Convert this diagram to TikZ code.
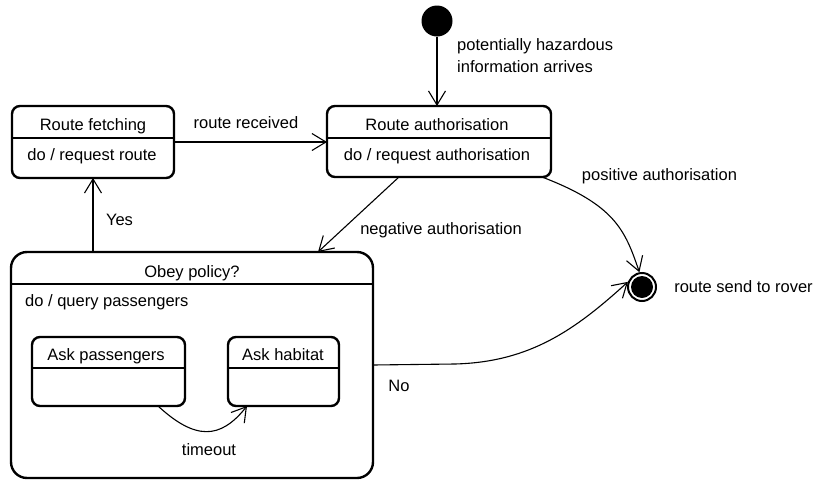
\documentclass[tikz,border=0pt]{standalone}
\usepackage{fontspec}
\setmainfont{Liberation Sans}
\usetikzlibrary{arrows.meta,calc}
\begin{document}
\begin{tikzpicture}[x=1pt,y=-1pt,
  font=\fontsize{16.5}{22}\selectfont,
  box/.style={draw, line width=2.4pt, rounded corners=8pt, inner sep=0pt, outer sep=0pt},
  bigbox/.style={box, rounded corners=16pt},
  lbl/.style={inner sep=0pt, text height=12pt, text depth=3.5pt},
  conn/.style={line width=1.1pt, -{Straight Barb[length=14pt,width=17pt,line width=1.1pt]}},
  divider/.style={line width=1.2pt},
]
\useasboundingbox (0,0) rectangle (815,480);

% initial state
\node[circle, fill, minimum size=31pt, inner sep=0pt] (init) at (437,21) {};
\node[lbl, anchor=west, align=left, text height=, text depth=] (initlbl) at (457,56) {potentially hazardous\\information arrives};

% Route fetching
\node[box, minimum width=162pt, minimum height=72pt] (fetch) at (93,142) {};
\draw[divider] (fetch.west |- 0,138) -- (fetch.east |- 0,138);
\node[lbl] (fetcht) at (93,126) {Route fetching};
\node[lbl] (fetchd) at (92,156) {do / request route};

% Route authorisation
\node[box, minimum width=224pt, minimum height=71pt] (auth) at (439,141.5) {};
\draw[divider] (auth.west |- 0,138) -- (auth.east |- 0,138);
\node[lbl] (autht) at (437,126) {Route authorisation};
\node[lbl] (authd) at (437,156) {do / request authorisation};

% Obey policy
\node[bigbox, minimum width=362pt, minimum height=226pt] (obey) at (192,365) {};
\draw[divider] (obey.west |- 0,284) -- (obey.east |- 0,284);
\node[lbl] (obeyt) at (192,273) {Obey policy?};
\node[lbl, anchor=west] (obeyd) at (25,302) {do / query passengers};

% Ask passengers
\node[box, minimum width=153pt, minimum height=69pt] (askp) at (108.5,371.5) {};
\draw[divider] (askp.west |- 0,368) -- (askp.east |- 0,368);
\node[lbl] (askpt) at (106,356) {Ask passengers};

% Ask habitat
\node[box, minimum width=111pt, minimum height=69pt] (askh) at (283.5,371.5) {};
\draw[divider] (askh.west |- 0,368) -- (askh.east |- 0,368);
\node[lbl] (askht) at (283,356) {Ask habitat};

% final state
\node[circle, draw, line width=2pt, minimum size=28pt, inner sep=0pt, outer sep=1pt] (final) at (642,287) {};
\node[circle, fill, minimum size=22pt, inner sep=0pt] (finaldot) at (final) {};
\node[lbl] (finallbl) at (743.5,288) {route send to rover};

% connectors
\draw[conn] (init) -- (init |- auth.north);
\draw[conn] (fetch.east |- 0,142) -- (auth.west |- 0,142);
\node[lbl] (recv) at (246,124) {route received};

\draw[conn] (obey.north -| fetch.south) -- (fetch.south);
\node[lbl] (yes) at (119.5,221) {Yes};

\draw[conn] ($(auth.south west)+(72,0)$) -- ($(obey.north west)+(307,0)$);
\node[lbl] (neg) at (441,230) {negative authorisation};

\draw[conn] ($(auth.south east)+(-9,0)$) .. controls (615,205) and (625,230) .. (final.100);
\node[lbl] (pos) at (659.5,176) {positive authorisation};

\draw[conn] (obey.east |- 0,365) -- (455,364) .. controls (530,362) and (575,330) .. (final.160);
\node[lbl] (no) at (399,387) {No};

\draw[conn] (askp.south -| 158,0) .. controls (195,440) and (220,440) .. (askh.south -| 247,0);
\node[lbl] (timeout) at (209,451) {timeout};
\end{tikzpicture}
\end{document}
